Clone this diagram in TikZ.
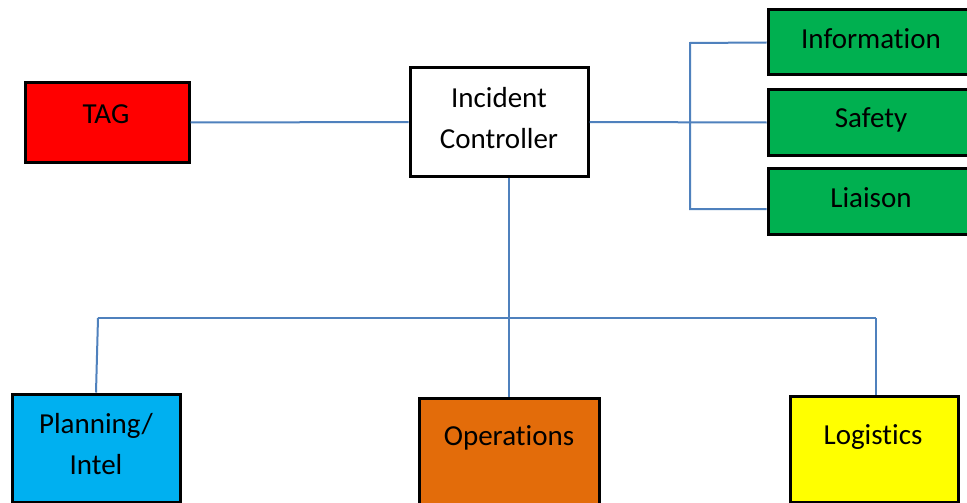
\documentclass[tikz,border=0pt]{standalone}
\usepackage{fontspec}
\setmainfont{Carlito}[Ligatures={NoCommon}]
\definecolor{linkblue}{HTML}{4F81BD}
\definecolor{tagred}{HTML}{FF0000}
\definecolor{cmdgreen}{HTML}{00B050}
\definecolor{plancyan}{HTML}{00B0F0}
\definecolor{opsorange}{HTML}{E36C0A}
\definecolor{logyellow}{HTML}{FFFF00}
\tikzset{
  unitbox/.style={draw=black, line width=3pt, inner sep=0pt, rectangle},
  lbl/.style={anchor=base, inner sep=0pt, font=\fontsize{29}{41}\selectfont},
  link/.style={draw=linkblue, line width=2pt},
}
\begin{document}
\begin{tikzpicture}[x=1pt, y=-1pt]
\useasboundingbox (0,0) rectangle (967,503);
\clip (0,0) rectangle (967,503);
\fill[white] (0,0) rectangle (967,503);

% top row
\node[unitbox, fill=tagred, minimum width=164pt, minimum height=79pt] (tag) at (107,122.5) {};
\node[unitbox, fill=white, minimum width=178pt, minimum height=108pt] (ic) at (499,122) {};
\node[unitbox, fill=cmdgreen, minimum width=206pt, minimum height=65pt] (info) at (871,42.5) {};
\node[unitbox, fill=cmdgreen, minimum width=206pt, minimum height=65pt] (safety) at (871,122.5) {};
\node[unitbox, fill=cmdgreen, minimum width=206pt, minimum height=66pt] (liaison) at (871,201) {};

% bottom row
\node[unitbox, fill=plancyan, minimum width=168pt, minimum height=108pt] (plan) at (96,448) {};
\node[unitbox, fill=opsorange, minimum width=180pt, minimum height=108pt] (ops) at (509,452) {};
\node[unitbox, fill=logyellow, minimum width=168pt, minimum height=106pt] (logi) at (874,449) {};

% labels
\node[lbl] (tagtxt) at (106,123) {TAG};
\node[lbl] (ictxta) at (499,107) {Incident};
\node[lbl] (ictxtb) at (499,148) {Controller};
\node[lbl] (infotxt) at (871,49) {Information};
\node[lbl] (safetytxt) at (871,128) {Safety};
\node[lbl] (liaisontxt) at (871,207) {Liaison};
\node[lbl] (plantxta) at (96,433) {Planning/};
\node[lbl] (plantxtb) at (96,474) {Intel};
\node[lbl] (opstxt) at (509,445) {Operations};
\node[lbl] (logitxt) at (873,444) {Logistics};

% connectors
\coordinate (brtop) at (690,43);
\coordinate (brbot) at (690,209);
\coordinate (busL) at (98,318);
\coordinate (busR) at (876,318);

\draw[link] (tag.east) -- (ic.west);
\draw[link] (ic.east) -- (safety.west);
\draw[link] (info.west) -- (brtop) -- (brbot) -- (brbot -| liaison.west);
\draw[link] (ic.south -| ops.north) -- (ops.north);
\draw[link] (busL) -- (busR);
\draw[link] (busL) -- (plan.north);
\draw[link] (busR) -- (busR |- logi.north);
\end{tikzpicture}
\end{document}
